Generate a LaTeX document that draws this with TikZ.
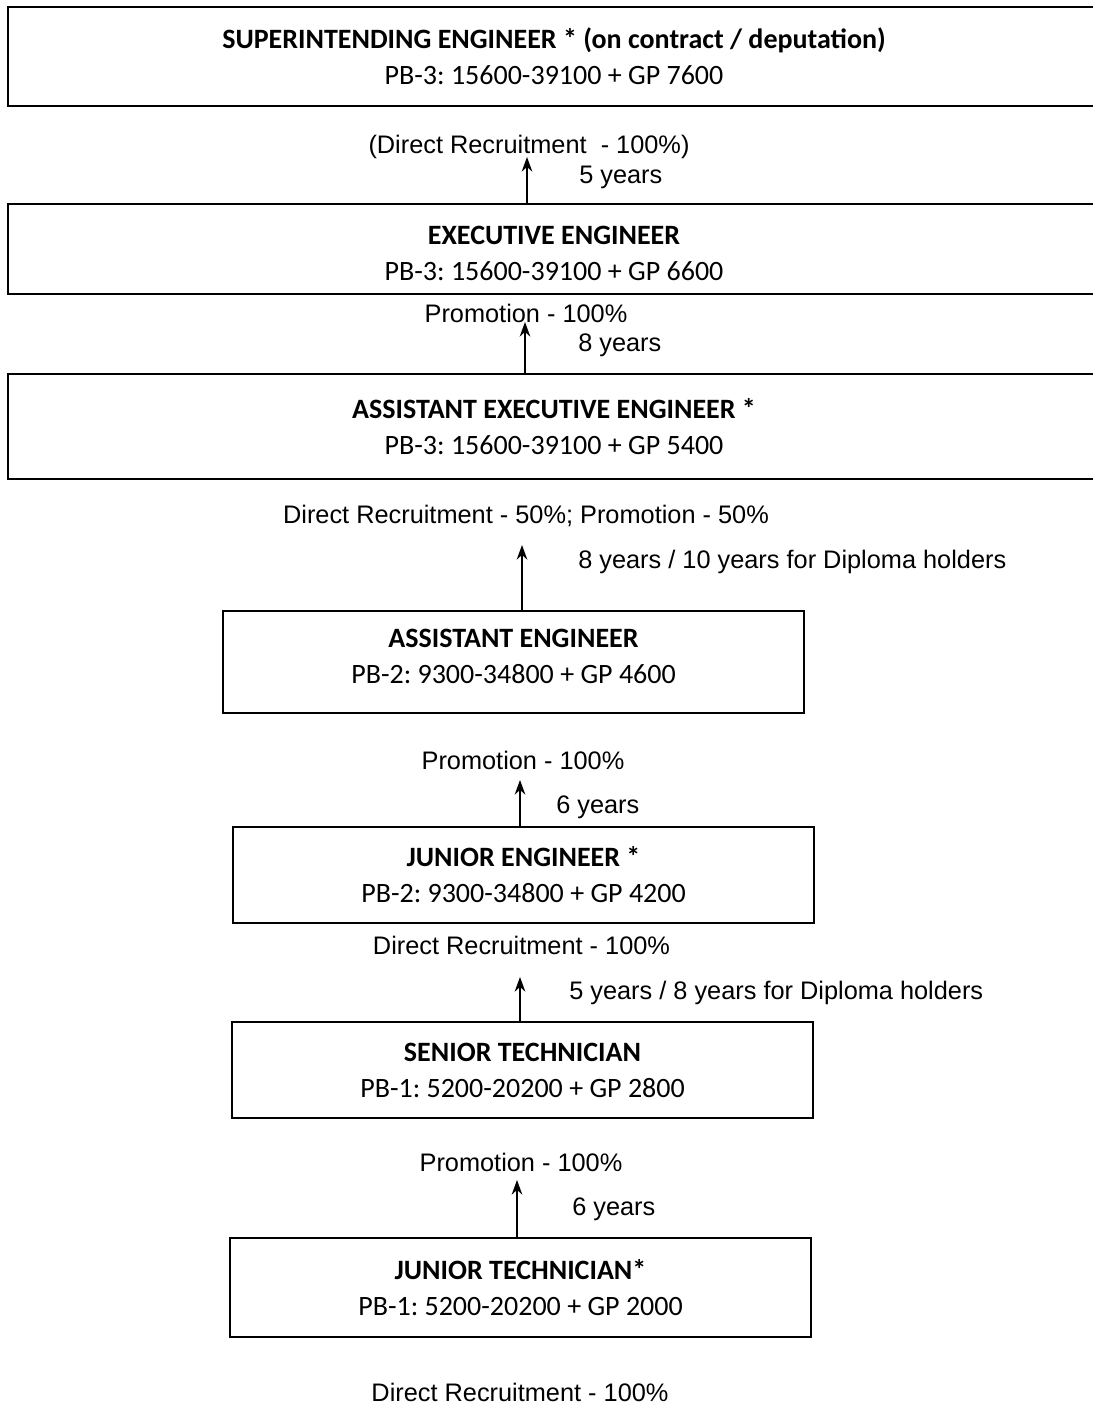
\documentclass[tikz,border=0pt]{standalone}
\usepackage{fontspec}
\setmainfont{Liberation Sans}
\newfontfamily\calibri{Carlito}
\usetikzlibrary{positioning,arrows.meta}
\frenchspacing

\begin{document}
\begin{tikzpicture}[x=0.75pt,y=-0.75pt,
  post/.style={draw,line width=1.2pt,inner sep=0pt,align=center,minimum width=435.75pt,font=\calibri\fontsize{21}{27}\selectfont},
  widepost/.style={post,minimum width=819pt},
  note/.style={inner sep=0pt,font=\fontsize{19}{23}\selectfont},
  up/.style={-{Stealth[length=11pt,width=8pt]},line width=1pt}]
\useasboundingbox (0,0) rectangle (1092,1406);
\fill[white] (0,0) rectangle (1092,1406);
\node[widepost,minimum height=74.25pt] (se) at (554,56.5) {{\bfseries SUPERINTENDING ENGINEER * (on contract / deputation)}\\PB-3: 15600-39100 + GP 7600};
\node[widepost,minimum height=67.5pt,text height=47pt] (ee) at (554,249) {{\bfseries EXECUTIVE ENGINEER}\\PB-3: 15600-39100 + GP 6600};
\node[widepost,minimum height=78.75pt] (aee) at (554,426.5) {{\bfseries ASSISTANT EXECUTIVE ENGINEER *}\\PB-3: 15600-39100 + GP 5400};
\node[post,minimum height=76.5pt,text depth=9pt] (ae) at (513.5,662) {{\bfseries ASSISTANT ENGINEER}\\PB-2: 9300-34800 + GP 4600};
\node[post,minimum height=72pt] (je) at (523.5,875) {{\bfseries JUNIOR ENGINEER *}\\PB-2: 9300-34800 + GP 4200};
\node[post,minimum height=72pt] (st) at (522.5,1070) {{\bfseries SENIOR TECHNICIAN}\\PB-1: 5200-20200 + GP 2800};
\node[post,minimum height=74.25pt] (jt) at (520.5,1287.5) {{\bfseries JUNIOR TECHNICIAN*}\\PB-1: 5200-20200 + GP 2000};
\node[note] (mode1) at (529,147) {(Direct Recruitment\ \ - 100\%)};
\node[note,anchor=west] (yrs1) at (579,177) {5 years};
\node[note] (mode2) at (526,313) {Promotion - 100\%};
\node[note,anchor=west] (yrs2) at (578,345) {8 years};
\node[note] (mode3) at (526,516) {Direct Recruitment - 50\%; Promotion - 50\%};
\node[note,anchor=west] (yrs3) at (578,562) {8 years / 10 years for Diploma holders};
\node[note] (mode4) at (523,760) {Promotion - 100\%};
\node[note,anchor=west] (yrs4) at (556,807) {6 years};
\node[note] (mode5) at (521.5,945) {Direct Recruitment - 100\%};
\node[note,anchor=west] (yrs5) at (569,993) {5 years / 8 years for Diploma holders};
\node[note] (mode6) at (521,1162) {Promotion - 100\%};
\node[note,anchor=west] (yrs6) at (572,1209) {6 years};
\node[note] (mode7) at (520,1392) {Direct Recruitment - 100\%};
\coordinate (tip1) at (527,157);
\coordinate (tip2) at (525,322);
\coordinate (tip3) at (522,545);
\coordinate (tip4) at (520,780);
\coordinate (tip5) at (520,977);
\coordinate (tip6) at (517,1180);
\draw[up] (ee.north -| tip1) -- (tip1);
\draw[up] (aee.north -| tip2) -- (tip2);
\draw[up] (ae.north -| tip3) -- (tip3);
\draw[up] (je.north -| tip4) -- (tip4);
\draw[up] (st.north -| tip5) -- (tip5);
\draw[up] (jt.north -| tip6) -- (tip6);
\end{tikzpicture}
\end{document}
